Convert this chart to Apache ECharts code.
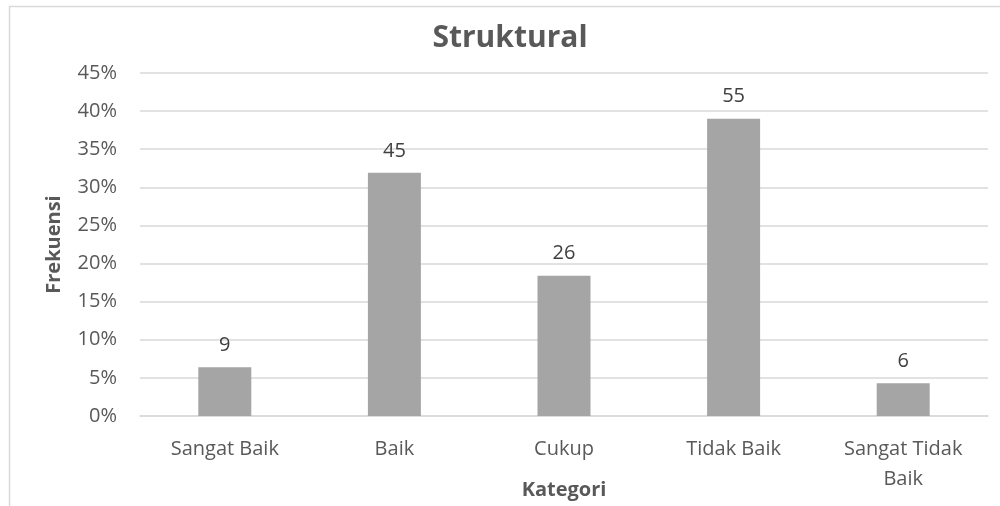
<!DOCTYPE html>
<html lang="id">
<head>
    <meta charset="UTF-8">
    <title>Struktural</title>
    <script src="https://cdn.jsdelivr.net/npm/echarts@6/dist/echarts.min.js"></script>
    <style>
        body { margin: 0; background: #fff; }
        #chart { width: 1000px; height: 506px; }
    </style>
</head>
<body>
    <div id="chart"></div>
    <script>
        // data
        const kategori = ['Sangat Baik', 'Baik', 'Cukup', 'Tidak Baik', 'Sangat Tidak Baik'];
        const frekuensi = [9, 45, 26, 55, 6];
        const persen = [6.4, 31.9, 18.4, 39.0, 4.3];
        const yTicks = [0, 5, 10, 15, 20, 25, 30, 35, 40, 45];

        const textColor = '#595959';
        const font = '"Open Sans", sans-serif';

        let chart = echarts.init(document.getElementById('chart'));

        chart.setOption({
            animation: false,
            title: {
                text: 'Struktural',
                left: 505,
                textAlign: 'center',
                top: 18,
                textStyle: { fontFamily: font, fontSize: 30, fontWeight: 'bold', color: textColor }
            },
            graphic: [{
                type: 'rect',
                shape: { x: 9.5, y: 6.5, width: 1000, height: 600 },
                style: { fill: 'none', stroke: '#d9d9d9', lineWidth: 1.5 },
                silent: true
            }],
            grid: { left: 140, right: 12, top: 73, bottom: 90, outerBoundsMode: 'none', containLabel: false },
            xAxis: {
                type: 'category',
                data: kategori,
                name: 'Kategori',
                nameLocation: 'middle',
                nameGap: 64,
                nameMoveOverlap: false,
                nameTextStyle: { fontFamily: font, fontSize: 20, fontWeight: 'bold', color: textColor },
                axisLine: { lineStyle: { color: '#d9d9d9', width: 1.5 } },
                axisTick: { show: false },
                axisLabel: {
                    fontFamily: font, fontSize: 20, color: textColor, margin: 18, lineHeight: 30,
                    formatter: v => v === 'Sangat Tidak Baik' ? 'Sangat Tidak\nBaik' : v
                }
            },
            yAxis: {
                type: 'value',
                min: yTicks[0],
                max: yTicks[yTicks.length - 1],
                interval: 5,
                name: 'Frekuensi',
                nameLocation: 'middle',
                nameGap: 76,
                nameRotate: 90,
                nameMoveOverlap: false,
                nameTextStyle: { fontFamily: font, fontSize: 20, fontWeight: 'bold', color: textColor },
                axisLine: { show: false },
                axisTick: { show: false },
                axisLabel: { fontFamily: font, fontSize: 20, color: textColor, margin: 23, formatter: '{value}%' },
                splitLine: { lineStyle: { color: '#d9d9d9', width: 1.5 } }
            },
            series: [{
                type: 'bar',
                data: persen,
                barWidth: 53,
                itemStyle: { color: '#a5a5a5' },
                label: {
                    show: true,
                    position: 'top',
                    distance: 12,
                    fontFamily: font,
                    fontSize: 20,
                    color: '#404040',
                    formatter: p => frekuensi[p.dataIndex]
                }
            }]
        });
    </script>
</body>
</html>
